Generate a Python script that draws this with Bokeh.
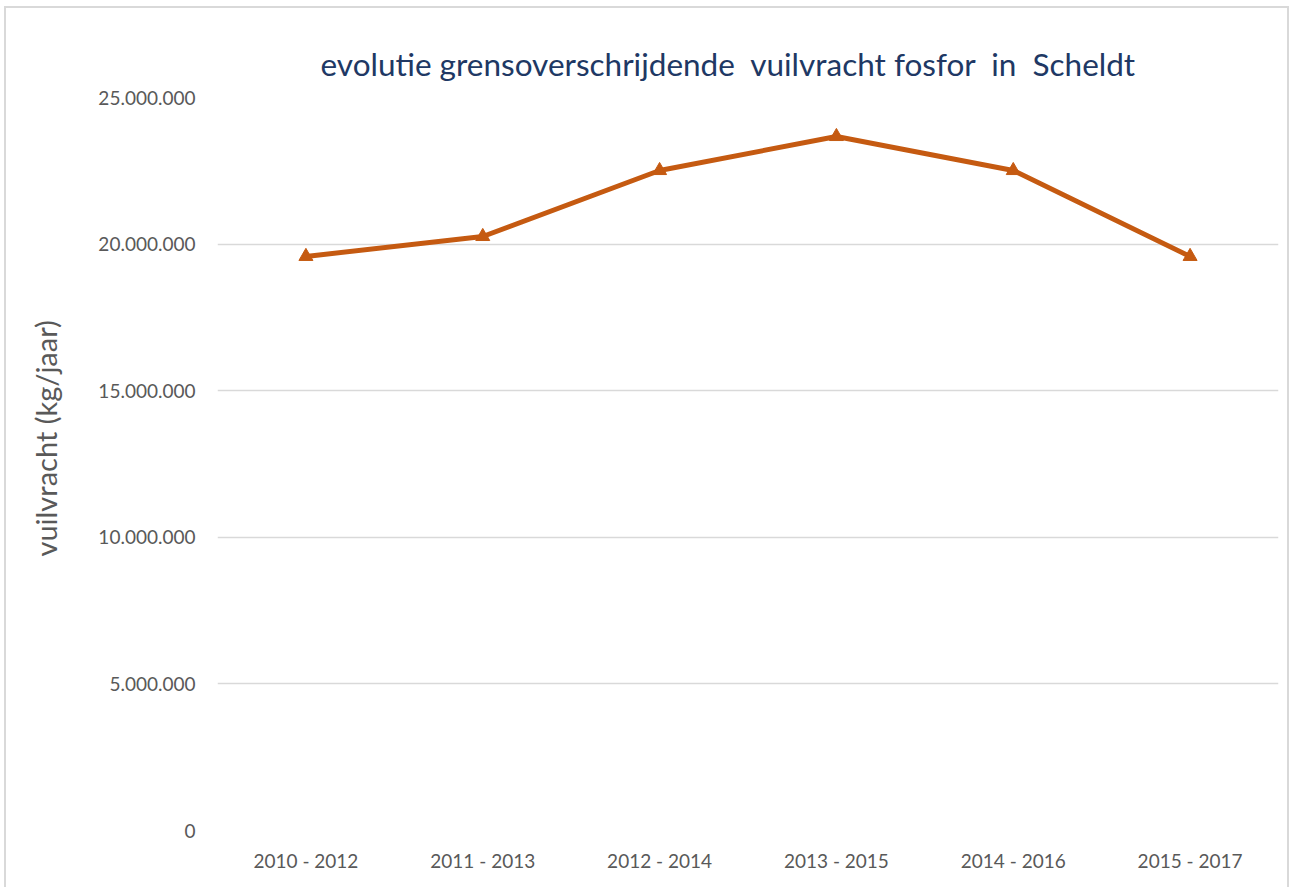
from bokeh.plotting import figure
from bokeh.models import FactorRange, Range1d, FixedTicker, Title
from bokeh.embed import file_html
from bokeh.resources import INLINE

categories = ["2010 - 2012", "2011 - 2013", "2012 - 2014", "2013 - 2015", "2014 - 2016", "2015 - 2017"]
values = [19580000, 20260000, 22510000, 23670000, 22510000, 19580000]
y_ticks = [0, 5000000, 10000000, 15000000, 20000000, 25000000]
y_tick_labels = ["0", "5.000.000", "10.000.000", "15.000.000", "20.000.000", "25.000.000"]

FONT = "Lato"
NB = "\u00a0"

p = figure(width=1281, height=879, x_range=FactorRange(*categories),
           y_range=Range1d(0, 25000000), output_backend="svg",
           toolbar_location=None, min_border_left=211, min_border_right=9,
           min_border_top=89, min_border_bottom=57)
p.styles = {"outline": "2px solid #d9d9d9", "margin-left": "6px", "margin-top": "8px"}

title_text = ("evolutie grensoverschrijdende" + NB + NB + "vuilvracht fosfor" + NB + NB
              + "in" + NB + NB + "Scheldt" + NB * 5)
t = Title(text=title_text, align="center", text_font=FONT, text_font_size="31.5px",
          text_font_style="normal", text_color="#203864", offset=0, standoff=29)
p.add_layout(t, "above")

p.line(categories, values, line_color="#C55A11", line_width=5)
p.scatter(categories, values, marker="triangle", size=14, fill_color="#C55A11",
          line_color="#C55A11")

p.outline_line_color = None
p.xgrid.grid_line_color = None
p.ygrid.grid_line_color = "#d9d9d9"
p.ygrid.grid_line_width = 1.5

p.yaxis.ticker = FixedTicker(ticks=y_ticks)
p.yaxis.major_label_overrides = {t_: l for t_, l in zip(y_ticks, y_tick_labels)}
p.yaxis.axis_line_color = None
p.yaxis.major_tick_line_color = None
p.yaxis.minor_tick_line_color = None
p.yaxis.major_tick_out = 0
p.yaxis.major_label_standoff = 22
p.yaxis.major_label_text_font = FONT
p.yaxis.major_label_text_font_size = "19px"
p.yaxis.major_label_text_color = "#595959"
p.yaxis.axis_label = NB * 7 + "vuilvracht (kg/jaar)"
p.yaxis.axis_label_text_font = FONT
p.yaxis.axis_label_text_font_size = "29px"
p.yaxis.axis_label_text_font_style = "normal"
p.yaxis.axis_label_text_color = "#595959"
p.yaxis.axis_label_standoff = 32

p.xaxis.axis_line_color = None
p.xaxis.major_tick_line_color = None
p.xaxis.minor_tick_line_color = None
p.xaxis.major_tick_out = 0
p.xaxis.major_label_standoff = 18
p.xaxis.major_label_text_font = FONT
p.xaxis.major_label_text_font_size = "19px"
p.xaxis.major_label_text_color = "#595959"

open("out.html", "w").write(file_html(p, INLINE))
